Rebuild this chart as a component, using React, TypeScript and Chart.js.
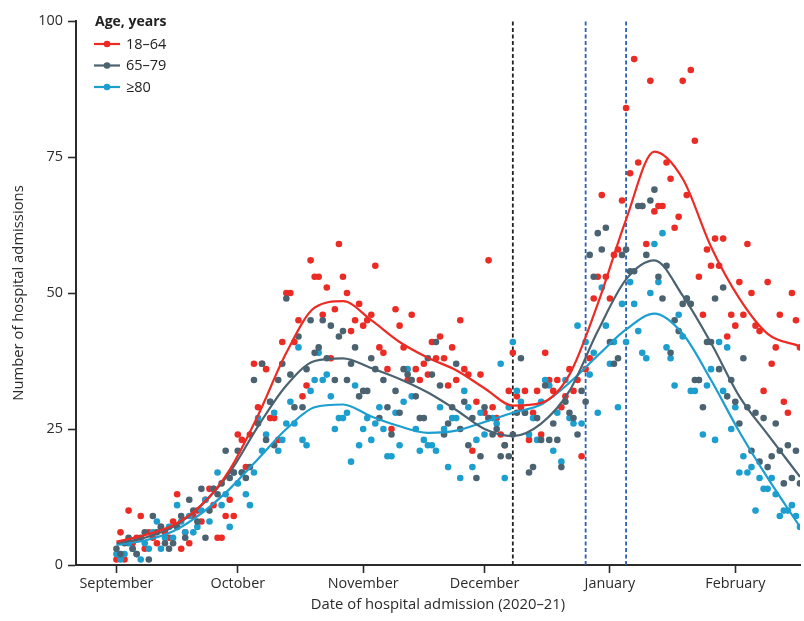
import React, { useEffect, useRef } from "react";
import { Chart, registerables } from "chart.js";

Chart.register(...registerables);

// Day index 0 = 1 September 2020
const monthStartDays = [0, 30, 61, 91, 122, 153];
const monthLabels = ["September", "October", "November", "December", "January", "February"];
const yTicks = [0, 25, 50, 75, 100];

const seriesNames = ["18–64", "65–79", "≥80"];

const admissions18to64 = [
  1, 6, 1, 10, 4, 5, 9, 3, 6, 5,
  4, 7, 6, 5, 8, 13, 3, 6, 4, 9,
  10, 8, 12, 14, 11, 5, 5, 9, 12, 9,
  24, 23, 18, 24, 37, 29, 37, 36, 27, 27,
  23, 41, 50, 50, 41, 45, 31, 33, 56, 53,
  53, 46, 51, 38, 47, 59, 53, 50, 43, 45,
  48, 44, 45, 46, 55, 40, 39, 36, 25, 47,
  44, 40, 34, 46, 36, 34, 37, 35, 41, 38,
  42, 38, 33, 40, 34, 45, 36, 35, 21, 30,
  35, 28, 56, 29, 27, 24, 22, 32, 39, 31,
  29, 32, 23, 28, 32, 24, 39, 34, 32, 34,
  29, 31, 36, 32, 34, 20, 36, 38, 49, 53,
  68, 53, 49, 57, 58, 67, 84, 72, 93, 74,
  66, 59, 89, 65, 66, 66, 74, 71, 62, 64,
  89, 68, 91, 78, 53, 46, 58, 55, 60, 55,
  60, 42, 46, 44, 52, 46, 59, 50, 44, 43,
  32, 52, 37, 40, 46, 30, 28, 50, 45, 40,
];

const admissions65to79 = [
  3, 2, 4, 5, 3, 2, 5, 6, 1, 9,
  6, 7, 4, 3, 4, 7, 9, 5, 12, 10,
  8, 14, 5, 10, 14, 13, 15, 21, 16, 17,
  21, 17, 16, 18, 34, 26, 37, 23, 30, 22,
  34, 37, 49, 35, 29, 42, 29, 36, 45, 39,
  40, 45, 38, 44, 34, 42, 43, 34, 37, 40,
  31, 32, 32, 38, 36, 27, 34, 29, 24, 32,
  28, 36, 35, 34, 31, 27, 27, 38, 35, 41,
  33, 24, 26, 29, 37, 25, 30, 22, 27, 16,
  20, 29, 27, 24, 25, 20, 22, 20, 24, 28,
  38, 28, 17, 18, 27, 23, 33, 23, 26, 23,
  18, 30, 28, 27, 24, 32, 30, 57, 53, 61,
  58, 62, 41, 37, 38, 57, 58, 54, 54, 66,
  66, 57, 67, 69, 53, 49, 55, 39, 45, 43,
  48, 49, 48, 34, 34, 29, 41, 41, 49, 36,
  51, 31, 34, 30, 26, 38, 29, 21, 28, 19,
  27, 18, 20, 26, 21, 15, 22, 16, 21, 15,
];

const admissions80plus = [
  2, 1, 2, 4, 3, 2, 1, 4, 3, 6,
  8, 3, 5, 7, 5, 11, 8, 6, 9, 6,
  7, 10, 12, 8, 14, 17, 11, 13, 7, 17,
  15, 17, 13, 11, 17, 27, 21, 24, 30, 28,
  21, 23, 26, 30, 26, 40, 23, 22, 32, 34,
  39, 34, 35, 31, 25, 27, 27, 28, 19, 33,
  22, 25, 27, 23, 26, 29, 25, 20, 20, 28,
  22, 30, 36, 31, 25, 21, 23, 22, 22, 21,
  29, 25, 18, 27, 27, 16, 32, 29, 18, 23,
  28, 24, 27, 27, 26, 37, 16, 29, 41, 32,
  30, 28, 24, 27, 23, 30, 34, 33, 21, 28,
  19, 34, 27, 26, 44, 26, 41, 35, 39, 28,
  51, 44, 37, 41, 29, 48, 41, 52, 48, 43,
  39, 38, 50, 59, 52, 61, 40, 38, 33, 46,
  42, 49, 32, 32, 34, 24, 33, 36, 23, 41,
  32, 40, 25, 29, 17, 20, 17, 18, 10, 16,
  14, 14, 16, 13, 9, 10, 10, 11, 9, 7,
];

// Smoothed trend lines
const trendDays = [0, 7, 14, 21, 28, 35, 42, 49, 56, 63, 70, 77, 84, 91, 98, 105, 112, 119, 126, 133, 140, 147, 154, 161, 169];
const trend18to64 = [4.3, 5.5, 7.3, 11, 17.5, 27.5, 39, 47.3, 48.5, 45, 41, 38.1, 35.8, 32.5, 29.3, 29.8, 35, 48, 63.5, 76, 71, 58.5, 49, 42.5, 40.2];
const trend65to79 = [4, 5, 7, 11, 17, 25.5, 33, 37.5, 38, 36.2, 34.2, 31.7, 28.5, 25, 23.7, 26, 32, 43, 52.5, 56, 49.5, 40.8, 31, 24, 16.2];
const trend80plus = [3.7, 4.5, 6.2, 9.5, 14, 19.5, 25, 29, 29.5, 27.3, 25.5, 24.3, 24.7, 26.3, 28, 29.5, 33.5, 38.5, 43.3, 46.2, 42.5, 34, 24.5, 16, 7];

// Event markers (vertical dashed lines)
const eventDays = [98, 116, 126];

const COLORS = ["#ec2b25", "#4b6270", "#1c9ecf"];
const EVENT_COLORS = ["#222222", "#2c5fb5", "#2c5fb5"];

export default function App() {
  const ref = useRef<HTMLCanvasElement>(null);

  useEffect(() => {
    if (!ref.current) return;
    const font = "'Open Sans', sans-serif";
    const scatterSets = [admissions65to79, admissions80plus, admissions18to64];
    const scatterIdx = [1, 2, 0];
    const trends = [trend18to64, trend65to79, trend80plus];

    const datasets: any[] = [];
    eventDays.forEach((d, i) => {
      datasets.push({
        label: "event" + i,
        data: [{ x: d, y: 0 }, { x: d, y: 100 }],
        showLine: true,
        borderColor: EVENT_COLORS[i],
        borderWidth: 1.8,
        borderDash: [4, 2.5],
        pointRadius: 0,
        order: 10,
      });
    });
    scatterSets.forEach((vals, k) => {
      const ci = scatterIdx[k];
      datasets.push({
        label: seriesNames[ci],
        data: vals.map((v, i) => ({ x: i, y: v })),
        showLine: false,
        backgroundColor: COLORS[ci],
        borderWidth: 0,
        pointRadius: 3.3,
        order: 5,
      });
    });
    trends.forEach((vals, i) => {
      datasets.push({
        label: "trend" + i,
        data: vals.map((v, j) => ({ x: trendDays[j], y: v })),
        showLine: true,
        borderColor: COLORS[i],
        borderWidth: 2.2,
        pointRadius: 0,
        cubicInterpolationMode: "monotone",
        order: 1,
      });
    });

    const legendPlugin = {
      id: "ageLegend",
      afterDraw(chart: any) {
        const ctx = chart.ctx;
        ctx.save();
        ctx.textBaseline = "middle";
        ctx.textAlign = "left";
        ctx.fillStyle = "#222";
        ctx.font = `bold 14px ${font}`;
        ctx.fillText("Age, years", 95, 22);
        ctx.font = `14.5px ${font}`;
        const rows = [44, 65.5, 87];
        rows.forEach((y, i) => {
          ctx.strokeStyle = COLORS[i];
          ctx.lineWidth = 2.2;
          ctx.beginPath();
          ctx.moveTo(94, y);
          ctx.lineTo(120, y);
          ctx.stroke();
          ctx.fillStyle = COLORS[i];
          ctx.beginPath();
          ctx.arc(107, y, 3.3, 0, Math.PI * 2);
          ctx.fill();
          ctx.fillStyle = "#222";
          ctx.fillText(seriesNames[i], 126, y + 0.5);
        });
        ctx.restore();
      },
    };

    const chart = new Chart(ref.current, {
      type: "scatter",
      data: { datasets },
      options: {
        responsive: false,
        animation: false,
        layout: { padding: { top: 21, right: 0, bottom: 0, left: 0 } },
        plugins: {
          legend: { display: false },
          tooltip: { enabled: false },
        },
        scales: {
          x: {
            type: "linear",
            min: -10,
            max: 169,
            afterFit: (s: any) => { s.height = 56; },
            afterBuildTicks: (s: any) => { s.ticks = monthStartDays.map((v) => ({ value: v })); },
            ticks: {
              autoSkip: false,
              maxRotation: 0,
              padding: 2,
              color: "#2b2b2b",
              font: { family: font, size: 14.4 },
              callback: (v: any) => {
                const i = monthStartDays.indexOf(Number(v));
                return i >= 0 ? monthLabels[i] : "";
              },
            },
            grid: { drawOnChartArea: false, drawTicks: true, tickLength: 8, tickWidth: 1.6, tickColor: "#2b2b2b", color: "#2b2b2b" },
            border: { display: true, color: "#2b2b2b", width: 2 },
            title: {
              display: true,
              text: "Date of hospital admission (2020–21)",
              color: "#2b2b2b",
              font: { family: font, size: 14.8 },
              padding: { top: 0, bottom: 7 },
            },
          },
          y: {
            min: 0,
            max: 100,
            afterFit: (s: any) => { s.width = 76; },
            afterBuildTicks: (s: any) => { s.ticks = yTicks.map((v) => ({ value: v })); },
            ticks: {
              padding: 5,
              color: "#2b2b2b",
              font: { family: font, size: 14.4 },
            },
            grid: { drawOnChartArea: false, drawTicks: true, tickLength: 8, tickWidth: 1.6, tickColor: "#2b2b2b", color: "#2b2b2b" },
            border: { display: true, color: "#2b2b2b", width: 2 },
            title: {
              display: true,
              text: "Number of hospital admissions",
              color: "#2b2b2b",
              font: { family: font, size: 14.8 },
              padding: { top: 9.5, bottom: 0 },
            },
          },
        },
      },
      plugins: [legendPlugin],
    } as any);
    return () => chart.destroy();
  }, []);

  return (
    <div style={{ position: "absolute", left: 0, top: 0, width: 804, height: 621, background: "#fff" }}>
      <canvas ref={ref} width={804} height={621} style={{ display: "block" }} />
    </div>
  );
}
